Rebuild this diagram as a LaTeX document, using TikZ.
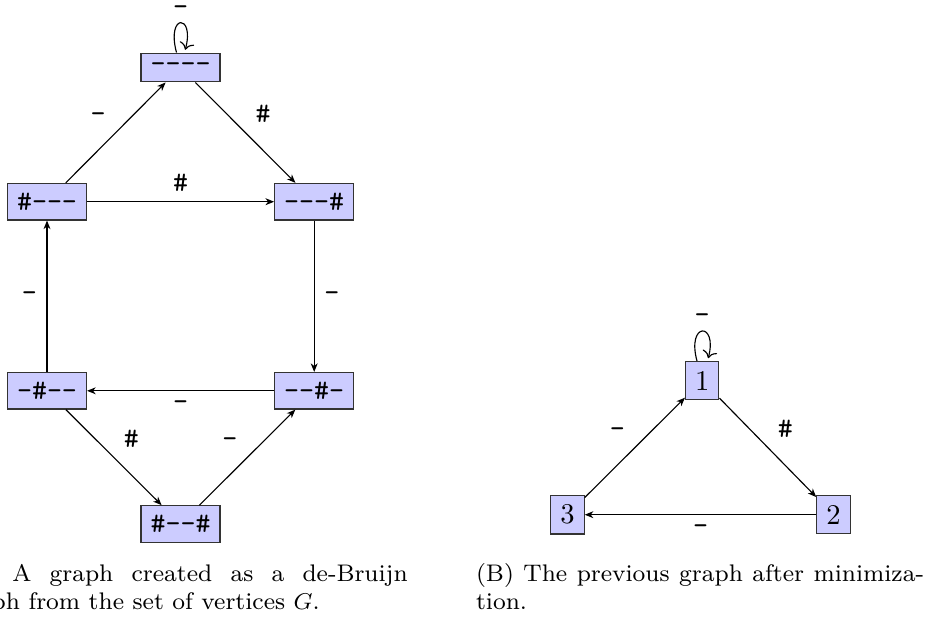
\documentclass[tikz,border=0pt]{standalone}
\usetikzlibrary{arrows.meta}
\begin{document}
\begin{tikzpicture}[x=0.35pt,y=0.35pt,
  vbox/.style={draw=black!80,fill=blue!20,font=\ttfamily},
  nbox/.style={draw=black!80,fill=blue!20},
  lab/.style={font=\ttfamily},
  looplab/.style={font=\ttfamily,above,inner sep=0.5pt,yshift=2pt},
  arr/.style={-{Stealth[length=3pt,width=2.4pt,inset=0.9pt]}},
  captext/.style={anchor=base west,inner sep=0pt,font=\fontsize{8.4}{10}\selectfont}]
\useasboundingbox (0,0) rectangle (928,-623);
\clip (0,0) rectangle (928,-623);
% left graph
\node[vbox] (n0) at (180.5,-67.5) {{-}{-}{-}{-}};
\node[vbox] (n8) at (47,-201.7) {\#{-}{-}{-}};
\node[vbox] (n1) at (314.2,-201.7) {{-}{-}{-}\#};
\node[vbox] (n4) at (47,-390.8) {{-}\#{-}{-}};
\node[vbox] (n2) at (314.2,-390.8) {{-}{-}\#{-}};
\node[vbox] (n9) at (180.5,-524) {\#{-}{-}\#};
\path (n0) edge[arr,loop above] node[looplab] {-} ();
\draw[arr,auto] (n8) -- node[lab] {-} (n0);
\draw[arr,auto] (n0) -- node[lab] {\#} (n1);
\draw[arr,auto] (n8) -- node[lab] {\#} (n1);
\draw[arr,auto] (n1) -- node[lab] {-} (n2);
\draw[arr,auto] (n2) -- node[lab] {-} (n4);
\draw[arr,auto] (n4) -- node[lab] {-} (n8);
\draw[arr,auto] (n4) -- node[lab] {\#} (n9);
\draw[arr,auto] (n9) -- node[lab] {-} (n2);
% right graph
\node[nbox] (r1) at (702.2,-380.5) {1};
\node[nbox] (r2) at (833.5,-514.7) {2};
\node[nbox] (r3) at (567.5,-514.7) {3};
\path (r1) edge[arr,loop above] node[looplab] {-} ();
\draw[arr,auto] (r1) -- node[lab] {\#} (r2);
\draw[arr,auto] (r2) -- node[lab] {-} (r3);
\draw[arr,auto] (r3) -- node[lab] {-} (r1);
% captions
\node[captext] (ca1) at (11.7,-581) {\makebox[138.4pt][s]{A graph created as a de-Bruijn}};
\node[captext] (ca2) at (-44.3,-609.5) {graph from the set of vertices $G$.};
\node[captext] (cb1) at (475.5,-581) {\makebox[156.8pt][s]{(B) The previous graph after minimiza-}};
\node[captext] (cb2) at (475.5,-609.5) {tion.};
\end{tikzpicture}
\end{document}
